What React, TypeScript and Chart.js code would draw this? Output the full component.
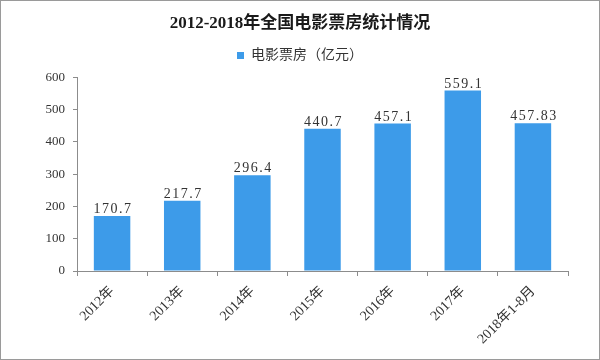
import React, { useEffect, useRef } from "react";
import { Chart, registerables } from "chart.js";

Chart.register(...registerables);

const categories = ["2012年", "2013年", "2014年", "2015年", "2016年", "2017年", "2018年1-8月"];
const boxOffice = [170.7, 217.7, 296.4, 440.7, 457.1, 559.1, 457.83];
const valueLabels = ["170.7", "217.7", "296.4", "440.7", "457.1", "559.1", "457.83"];
const yTicks = [0, 100, 200, 300, 400, 500, 600];

const SERIF = "'Liberation Serif', 'Noto Sans CJK SC', serif";

const borderPlugin = {
  id: "frameBorder",
  beforeLayout(chart: any) {
    const lg = chart.legend;
    if (lg && !lg.__patched) {
      const orig = lg.fit.bind(lg);
      lg.fit = function () {
        orig();
        this.height += 5;
      };
      lg.__patched = true;
    }
  },
  beforeDraw(chart: any) {
    const { ctx, width, height } = chart;
    ctx.save();
    ctx.fillStyle = "#ffffff";
    ctx.fillRect(0, 0, width, height);
    ctx.strokeStyle = "#9a9a9a";
    ctx.lineWidth = 1;
    ctx.strokeRect(0.5, 0.5, width - 1, height - 1);
    ctx.restore();
  },
};

const valueLabelPlugin = {
  id: "valueLabels",
  afterDatasetsDraw(chart: any) {
    const { ctx } = chart;
    const meta = chart.getDatasetMeta(0);
    ctx.save();
    ctx.font = "14px " + SERIF;
    try {
      (ctx as any).letterSpacing = "1.5px";
    } catch (e) {}
    ctx.fillStyle = "#333333";
    ctx.textAlign = "center";
    ctx.textBaseline = "alphabetic";
    meta.data.forEach((bar: any, i: number) => {
      ctx.fillText(valueLabels[i], bar.x + 1, bar.y - 3);
    });
    ctx.restore();
  },
};

export default function App() {
  const ref = useRef<HTMLCanvasElement | null>(null);
  useEffect(() => {
    document.body.style.margin = "0";
    if (!ref.current) return;
    const chart = new Chart(ref.current, {
      type: "bar",
      data: {
        labels: categories,
        datasets: [
          {
            label: "电影票房（亿元）",
            data: boxOffice,
            backgroundColor: "#3d9be9",
            borderWidth: 0,
            categoryPercentage: 1,
            barPercentage: 0.52,
          },
        ],
      },
      options: {
        animation: false,
        responsive: false,
        layout: { padding: { left: 32, right: 32, top: 0, bottom: 0 } },
        plugins: {
          title: {
            display: true,
            text: "2012-2018年全国电影票房统计情况",
            color: "#1a1a1a",
            font: { size: 17, weight: "bold", family: SERIF },
            padding: { top: 13, bottom: 5 },
          },
          legend: {
            display: true,
            labels: {
              boxWidth: 7,
              boxHeight: 7,
              color: "#333333",
              font: { size: 14, family: SERIF },
              padding: 10,
            },
          },
          tooltip: { enabled: false },
        },
        scales: {
          x: {
            offset: true,
            afterFit(scale: any) {
              scale.height = 89;
            },
            grid: {
              display: true,
              offset: true,
              drawOnChartArea: false,
              drawTicks: true,
              tickLength: 5,
              color: "#8c8c8c",
            },
            border: { display: true, color: "#8c8c8c" },
            ticks: {
              color: "#333333",
              font: { size: 14, family: SERIF },
              minRotation: 45,
              maxRotation: 45,
              autoSkip: false,
              padding: 7,
            },
          },
          y: {
            min: 0,
            max: 600,
            afterBuildTicks(scale: any) {
              scale.ticks = yTicks.map((v) => ({ value: v }));
            },
            afterFit(scale: any) {
              scale.width = 45;
            },
            grid: {
              display: true,
              drawOnChartArea: false,
              drawTicks: true,
              tickLength: 4,
              color: "#8c8c8c",
            },
            border: { display: true, color: "#8c8c8c" },
            ticks: {
              color: "#333333",
              font: { size: 13, family: SERIF },
              padding: 8,
            },
          },
        },
      },
      plugins: [borderPlugin, valueLabelPlugin],
    });
    return () => chart.destroy();
  }, []);
  return (
    <div style={{ width: 600, height: 360 }}>
      <canvas ref={ref} width={600} height={360} style={{ display: "block" }} />
    </div>
  );
}
